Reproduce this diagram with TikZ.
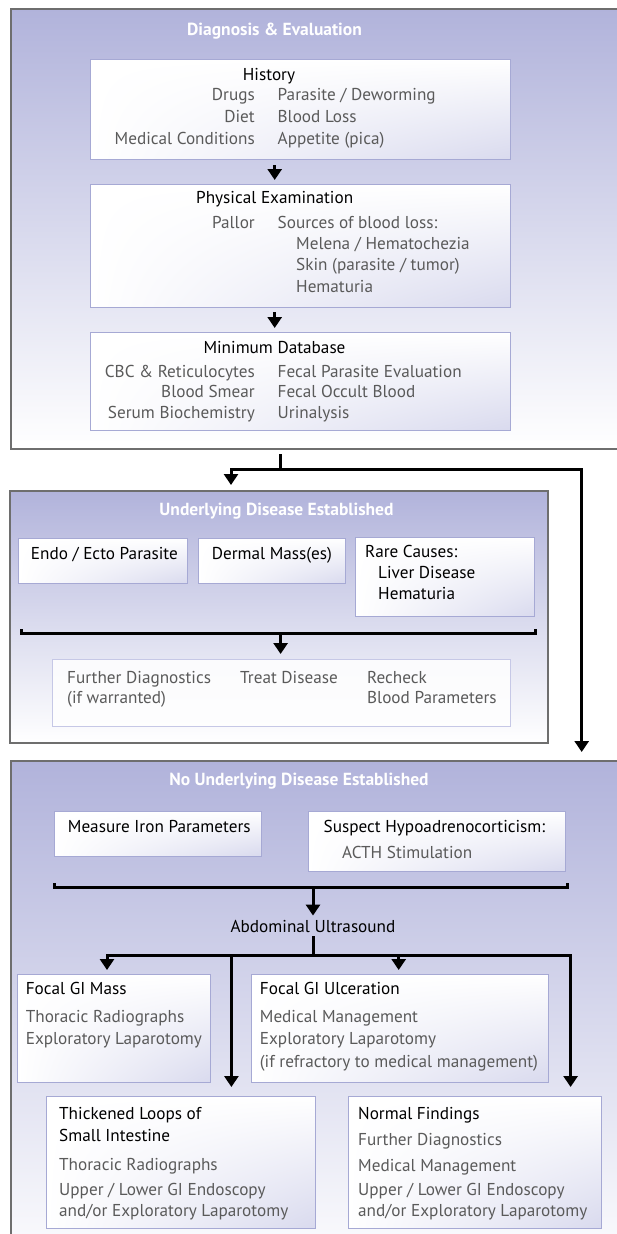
\documentclass[tikz,border=0pt]{standalone}
\usepackage{fontspec}
\setmainfont{PT Sans}
\usetikzlibrary{arrows.meta,shadings,calc}
\definecolor{lav}{HTML}{B1B3DB}
\definecolor{ibord}{HTML}{A6A9D4}
\definecolor{ibordl}{HTML}{C6C8E6}
\definecolor{itint}{HTML}{D9DAEE}
\definecolor{txtgray}{HTML}{5A5A5A}
\definecolor{oborder}{HTML}{6E6E6E}
\begin{document}
\begin{tikzpicture}[x=1pt,y=-1pt,
  font=\fontsize{17.2}{20}\selectfont,
  outer/.style={draw=oborder, line width=2pt, top color=lav, bottom color=white, anchor=north west, inner sep=0pt, outer sep=0pt},
  ibox/.style={draw=ibord, line width=0.9pt, upper left=white, upper right=white, lower left=white, lower right=itint, anchor=north west, inner sep=0pt, outer sep=0pt},
  lbox/.style={draw=ibordl, line width=0.9pt, fill=white, fill opacity=0.85, anchor=north west, inner sep=0pt, outer sep=0pt},
  ttl/.style={inner sep=0pt, text=white, font=\fontsize{17.5}{20}\selectfont\bfseries, anchor=base},
  hd/.style={inner sep=0pt, text=black},
  gt/.style={inner sep=0pt, text=txtgray},
  arr/.style={line width=3pt, line join=miter, -{Triangle[width=14pt,length=11pt]}},
  darr/.style={line width=3pt, line join=miter, {Triangle[width=14pt,length=11pt]}-{Triangle[width=14pt,length=11pt]}},
  brk/.style={line width=3pt, line join=miter},
]
\useasboundingbox (0,0) rectangle (617,1234);
\clip (0,0) rectangle (617,1234);

% ---------------- Box 1 ----------------
\node[outer, minimum width=640pt, minimum height=440pt] (b1) at (10.5,9) {};
\node[ttl] (t1) at (274.5,35) {Diagnosis \& Evaluation};

\node[ibox, minimum width=419.5pt, minimum height=100pt] (hist) at (90.5,59) {};
\node[hd, anchor=base] (histh) at (269,80) {History};
\node[gt, anchor=base east] (hl1) at (255,100) {Drugs};
\node[gt, anchor=base west] (hr1) at (277.5,100) {Parasite / Deworming};
\node[gt, anchor=base east] (hl2) at (255,122) {Diet};
\node[gt, anchor=base west] (hr2) at (277.5,122) {Blood Loss};
\node[gt, anchor=base east] (hl3) at (255,144) {Medical Conditions};
\node[gt, anchor=base west] (hr3) at (277.5,144) {Appetite (pica)};

\node[ibox, minimum width=419.5pt, minimum height=123pt] (phys) at (90.5,184) {};
\node[hd, anchor=base] (physh) at (274.7,203) {Physical Examination};
\node[gt, anchor=base east] (pl1) at (255,228) {Pallor};
\node[gt, anchor=base west] (pr1) at (277.5,228) {Sources of blood loss:};
\node[gt, anchor=base west] (pr2) at (296,249) {Melena / Hematochezia};
\node[gt, anchor=base west] (pr3) at (296,270) {Skin (parasite / tumor)};
\node[gt, anchor=base west] (pr4) at (296,292) {Hematuria};

\node[ibox, minimum width=419.5pt, minimum height=98pt] (mdb) at (90.5,332) {};
\node[hd, anchor=base] (mdbh) at (274.5,353) {Minimum Database};
\node[gt, anchor=base east] (ml1) at (255,377) {CBC \& Reticulocytes};
\node[gt, anchor=base west] (mr1) at (277.5,377) {Fecal Parasite Evaluation};
\node[gt, anchor=base east] (ml2) at (255,397) {Blood Smear};
\node[gt, anchor=base west] (mr2) at (277.5,397) {Fecal Occult Blood};
\node[gt, anchor=base east] (ml3) at (255,418) {Serum Biochemistry};
\node[gt, anchor=base west] (mr3) at (277.5,418) {Urinalysis};

\draw[arr, shorten <=6pt, shorten >=4pt] (hist.south -| physh) -- (phys.north -| physh);
\draw[arr, shorten <=5pt, shorten >=4pt] (phys.south -| physh) -- (mdb.north -| physh);

% ---------------- Box 2 ----------------
\node[outer, minimum width=538pt, minimum height=252pt] (b2) at (10,491) {};
\node[outer, minimum width=640pt, minimum height=520pt] (b3) at (11,761) {};

\coordinate (j1) at (280.6,469);
\coordinate (j1l) at (231,469);
\coordinate (j1r) at (581.7,469);
\draw[brk, shorten <=5pt] (b1.south -| j1) -- (j1);
\draw[darr, shorten <=6pt, shorten >=9pt] (b2.north -| j1l) -- (j1l) -- (j1r) -- (b3.north -| j1r);

\node[ttl] (t2) at (276.5,515) {Underlying Disease Established};
\node[ibox, minimum width=169pt, minimum height=45pt] (endo) at (18.5,538) {};
\node[hd, anchor=base west] (endot) at (30.7,559) {Endo / Ecto Parasite};
\node[ibox, minimum width=147pt, minimum height=45pt] (derm) at (198,538) {};
\node[hd, anchor=base west] (dermt) at (211.7,559) {Dermal Mass(es)};
\node[ibox, minimum width=179pt, minimum height=79pt] (rare) at (355,537) {};
\node[hd, anchor=base west] (rare1) at (365,557) {Rare Causes:};
\node[hd, anchor=base west] (rare2) at (378,578) {Liver Disease};
\node[hd, anchor=base west] (rare3) at (378,599) {Hematuria};

\coordinate (br2l) at (21.6,633);
\coordinate (br2r) at (535,633);
\coordinate (br2c) at (280.6,633);
\draw[brk] ($(br2l)+(0,-4)$) -- (br2l) -- (br2r) -- ($(br2r)+(0,-4)$);
\node[lbox, minimum width=458pt, minimum height=67pt] (furt) at (52,659) {};
\draw[arr, shorten >=5pt] (br2c) -- (furt.north -| br2c);
\node[gt, anchor=base west] (f1) at (67,683) {Further Diagnostics};
\node[gt, anchor=base west] (f2) at (67,703) {(if warranted)};
\node[gt, anchor=base west] (f3) at (240,683) {Treat Disease};
\node[gt, anchor=base west] (f4) at (367,683) {Recheck};
\node[gt, anchor=base west] (f5) at (367,703) {Blood Parameters};

% ---------------- Box 3 ----------------
\node[ttl] (t3) at (299,785) {No Underlying Disease Established};
\node[ibox, minimum width=207pt, minimum height=45pt] (meas) at (54,811) {};
\node[hd, anchor=base west] (meast) at (67.7,832) {Measure Iron Parameters};
\node[ibox, minimum width=257.5pt, minimum height=60pt] (susp) at (308,811) {};
\node[hd, anchor=base west] (susp1) at (323.5,832) {Suspect Hypoadrenocorticism:};
\node[gt, anchor=base west] (susp2) at (342,858) {ACTH Stimulation};

\coordinate (br3l) at (54,887);
\coordinate (br3r) at (567,887);
\coordinate (br3c) at (313,887);
\draw[brk] ($(br3l)+(0,-4)$) -- (br3l) -- (br3r) -- ($(br3r)+(0,-4)$);
\node[hd, anchor=base] (abd) at (313,932) {Abdominal Ultrasound};
\draw[arr, shorten >=4pt] (br3c) -- (abd.north);

\node[ibox, minimum width=193pt, minimum height=108pt] (fmass) at (17.7,974) {};
\node[ibox, minimum width=297pt, minimum height=108pt] (ulc) at (251,974) {};
\node[ibox, minimum width=268.6pt, minimum height=132pt] (thick) at (46.4,1096) {};
\node[ibox, minimum width=253pt, minimum height=132pt] (norm) at (348,1096) {};

\coordinate (j3) at (313,955);
\coordinate (j3a) at (107,955);
\coordinate (j3b) at (231.4,955);
\coordinate (j3d) at (398.7,955);
\coordinate (j3r) at (570.6,955);
\draw[brk, shorten <=4pt] (abd.south) -- (j3);
\draw[darr, shorten <=4pt, shorten >=9pt] (fmass.north -| j3a) -- (j3a) -- (j3r) -- (norm.north -| j3r);
\draw[arr, shorten >=4pt] (j3d) -- (ulc.north -| j3d);
\draw[arr, shorten >=9pt] (j3b) -- (thick.north -| j3b);

\node[hd, anchor=base west] (fm1) at (25.6,994) {Focal GI Mass};
\node[gt, anchor=base west] (fm2) at (25.6,1022) {Thoracic Radiographs};
\node[gt, anchor=base west] (fm3) at (25.6,1044) {Exploratory Laparotomy};

\node[hd, anchor=base west] (u1) at (259.7,994) {Focal GI Ulceration};
\node[gt, anchor=base west] (u2) at (259.7,1022) {Medical Management};
\node[gt, anchor=base west] (u3) at (259.7,1044) {Exploratory Laparotomy};
\node[gt, anchor=base west] (u4) at (259.7,1067) {(if refractory to medical management)};

\node[hd, anchor=base west] (th1) at (59,1119) {Thickened Loops of};
\node[hd, anchor=base west] (th2) at (59,1141) {Small Intestine};
\node[gt, anchor=base west] (th3) at (59,1170) {Thoracic Radiographs};
\node[gt, anchor=base west] (th4) at (59,1195) {Upper / Lower GI Endoscopy};
\node[gt, anchor=base west] (th5) at (59,1216) {and/or Exploratory Laparotomy};

\node[hd, anchor=base west] (n1) at (358,1119) {Normal Findings};
\node[gt, anchor=base west] (n2) at (358,1145) {Further Diagnostics};
\node[gt, anchor=base west] (n3) at (358,1171) {Medical Management};
\node[gt, anchor=base west] (n4) at (358,1195) {Upper / Lower GI Endoscopy};
\node[gt, anchor=base west] (n5) at (358,1216) {and/or Exploratory Laparotomy};
\end{tikzpicture}
\end{document}
